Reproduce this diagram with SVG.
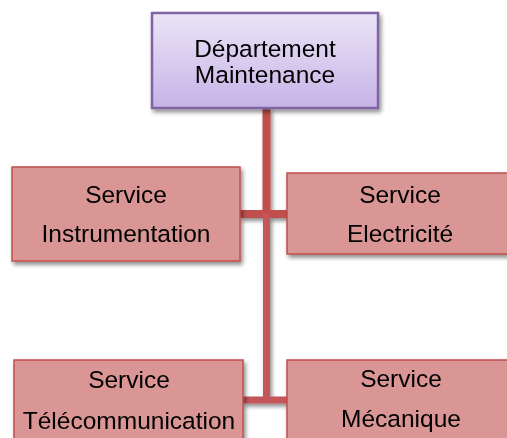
<svg xmlns="http://www.w3.org/2000/svg" width="507" height="438" viewBox="0 0 507 438">
<defs>
<linearGradient id="gp" x1="0" y1="0" x2="0" y2="1">
<stop offset="0" stop-color="#ebe5f7"/>
<stop offset="1" stop-color="#c6b3e7"/>
</linearGradient>
<filter id="sh" x="-10%" y="-10%" width="130%" height="140%">
<feGaussianBlur in="SourceAlpha" stdDeviation="2"/>
<feOffset dx="2" dy="3"/>
<feComponentTransfer><feFuncA type="linear" slope="0.45"/></feComponentTransfer>
<feMerge><feMergeNode/><feMergeNode in="SourceGraphic"/></feMerge>
</filter>
</defs>
<style>
.svc{fill:#d99694;stroke:#c0504d;stroke-width:1.5}
.top{fill:url(#gp);stroke:#8064a2;stroke-width:2.5}
.t{font-family:"Liberation Sans",Arial,sans-serif;font-size:24.5px;fill:#000;text-anchor:middle}
.c{fill:none;stroke:#c0504d;stroke-width:8}
.c2{fill:none;stroke:#c4575a;stroke-width:7}
</style>
<rect width="507" height="438" fill="#fff"/>
<g id="connectors" filter="url(#sh)">
<path class="c" d="M266.5 108 V214 M240 214 H287"/>
<path class="c2" d="M266.5 214 V400 M243 400 H287"/>
</g>
<g id="dept" filter="url(#sh)">
<rect class="top" x="152" y="13" width="226" height="95"/>
<text class="t" x="265" y="57">Département</text>
<text class="t" x="265" y="83">Maintenance</text>
</g>
<g id="instrumentation" filter="url(#sh)">
<rect class="svc" x="12" y="167" width="228" height="94"/>
<text class="t" x="126" y="203">Service</text>
<text class="t" x="126" y="242">Instrumentation</text>
</g>
<g id="electricite" filter="url(#sh)">
<rect class="svc" x="287" y="173" width="230" height="81"/>
<text class="t" x="400" y="203">Service</text>
<text class="t" x="400" y="242">Electricité</text>
</g>
<g id="telecommunication" filter="url(#sh)">
<rect class="svc" x="14" y="360" width="229" height="90"/>
<text class="t" x="129" y="388">Service</text>
<text class="t" x="129" y="429">Télécommunication</text>
</g>
<g id="mecanique" filter="url(#sh)">
<rect class="svc" x="287" y="360" width="230" height="90"/>
<text class="t" x="401" y="387">Service</text>
<text class="t" x="401" y="427">Mécanique</text>
</g>
</svg>
